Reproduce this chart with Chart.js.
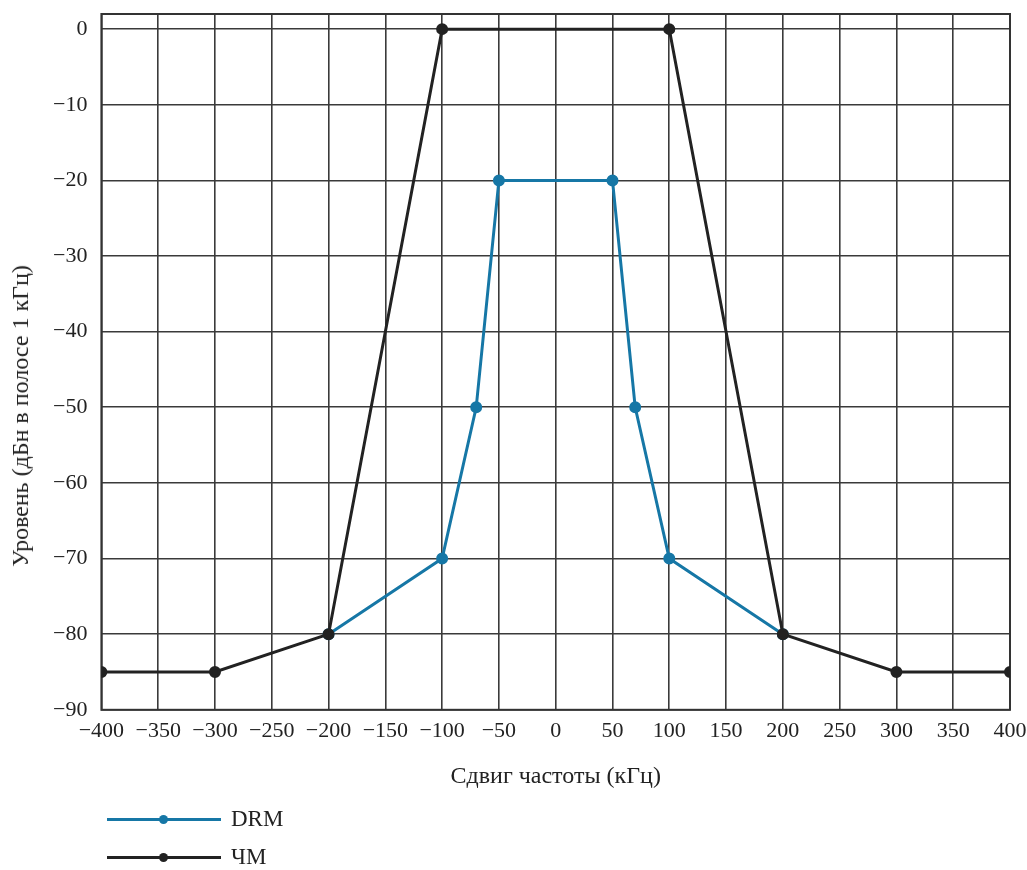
<!DOCTYPE html>
<html><head><meta charset="utf-8">
<script src="https://cdn.jsdelivr.net/npm/chart.js@4/dist/chart.umd.min.js"></script>
<style>
html,body{margin:0;padding:0;background:#fff;}
#wrap{position:relative;width:1027px;height:870px;}
canvas{position:absolute;left:0;top:0;}
#legend{position:absolute;left:107px;top:800px;font-family:"Liberation Serif",serif;font-size:23px;color:#222;}
.item{position:relative;height:38px;display:flex;align-items:center;}
.sw{position:relative;width:114px;height:20px;margin-right:10px;}
.ln{position:absolute;left:0;right:0;top:9px;height:3px;}
.dt{position:absolute;left:52px;top:6px;width:9px;height:9px;border-radius:50%;}
#ytitle{position:absolute;left:20px;top:416px;transform:translate(-50%,-50%) rotate(-90deg);white-space:nowrap;font-family:"Liberation Serif",serif;font-size:24px;color:#222;line-height:1;}
</style></head>
<body><div id="wrap"><canvas id="c" width="1027" height="870"></canvas><div id="ytitle"></div><div id="legend"></div></div>
<script>
const drmX = [-200, -100, -70, -50, 50, 70, 100, 200];
const drmY = [-80, -70, -50, -20, -20, -50, -70, -80];
const fmX = [-400, -300, -200, -100, 100, 200, 300, 400];
const fmY = [-85, -85, -80, 0, 0, -80, -85, -85];
const xTicks = [-400,-350,-300,-250,-200,-150,-100,-50,0,50,100,150,200,250,300,350,400];
const yTicks = [-90,-80,-70,-60,-50,-40,-30,-20,-10,0];
const seriesNames = ['DRM', 'ЧМ'];
const xTitle = 'Сдвиг частоты (кГц)';
const yTitle = 'Уровень (дБн в полосе 1 кГц)';

const blue = '#1677a6', black = '#222222';
const fmt = v => (v < 0 ? '\u2212' + Math.abs(v) : String(v));
const tickFont = {family: '"Liberation Serif", serif', size: 22};
const titleFont = {family: '"Liberation Serif", serif', size: 24};

const frame = {
  id: 'frame',
  beforeDatasetsDraw(chart) {
    const a = chart.chartArea, ctx = chart.ctx;
    ctx.save();
    ctx.strokeStyle = '#333';
    ctx.lineWidth = 2;
    ctx.strokeRect(a.left, a.top, a.right - a.left, a.bottom - a.top);
    ctx.restore();
  }
};

const chart = new Chart(document.getElementById('c'), {
  type: 'scatter',
  data: {
    datasets: [
      {label: seriesNames[0], data: drmX.map((x, i) => ({x, y: drmY[i]})), showLine: true,
       borderColor: blue, backgroundColor: blue, borderWidth: 3, pointRadius: 4.5, order: 1},
      {label: seriesNames[1], data: fmX.map((x, i) => ({x, y: fmY[i]})), showLine: true,
       borderColor: black, backgroundColor: black, borderWidth: 3, pointRadius: 4.5, order: 0}
    ]
  },
  plugins: [frame],
  options: {
    responsive: false, animation: false,
    layout: {padding: {left: 39, right: 17, top: 14, bottom: 75}},
    plugins: {legend: {display: false}, tooltip: {enabled: false}},
    scales: {
      x: {
        type: 'linear', min: -400, max: 400,
        afterBuildTicks: s => { s.ticks = xTicks.map(v => ({value: v})); },
        afterFit: s => { s.paddingLeft = 0; s.paddingRight = 0; },
        ticks: {callback: v => fmt(v), color: '#222', font: tickFont, padding: 8, maxRotation: 0, autoSkip: false},
        grid: {color: '#3a3a3a', lineWidth: 1.6, drawTicks: false},
        border: {display: false},
        title: {display: true, text: xTitle, color: '#222', font: titleFont, padding: {top: 10}}
      },
      y: {
        type: 'linear', min: -90, max: 2,
        afterBuildTicks: s => { s.ticks = yTicks.map(v => ({value: v})); },
        afterFit: s => { s.paddingTop = 0; s.paddingBottom = 0; },
        ticks: {callback: v => fmt(v), color: '#222', font: tickFont, padding: 14, autoSkip: false},
        grid: {color: '#3a3a3a', lineWidth: 1.6, drawTicks: false},
        border: {display: false},
        title: {display: false}
      }
    }
  }
});

document.getElementById('ytitle').textContent = yTitle;
const leg = document.getElementById('legend');
chart.data.datasets.forEach(ds => {
  const it = document.createElement('div'); it.className = 'item';
  it.innerHTML = '<div class="sw"><div class="ln" style="background:' + ds.borderColor + '"></div><div class="dt" style="background:' + ds.borderColor + '"></div></div><span>' + ds.label + '</span>';
  leg.appendChild(it);
});
</script></body></html>
